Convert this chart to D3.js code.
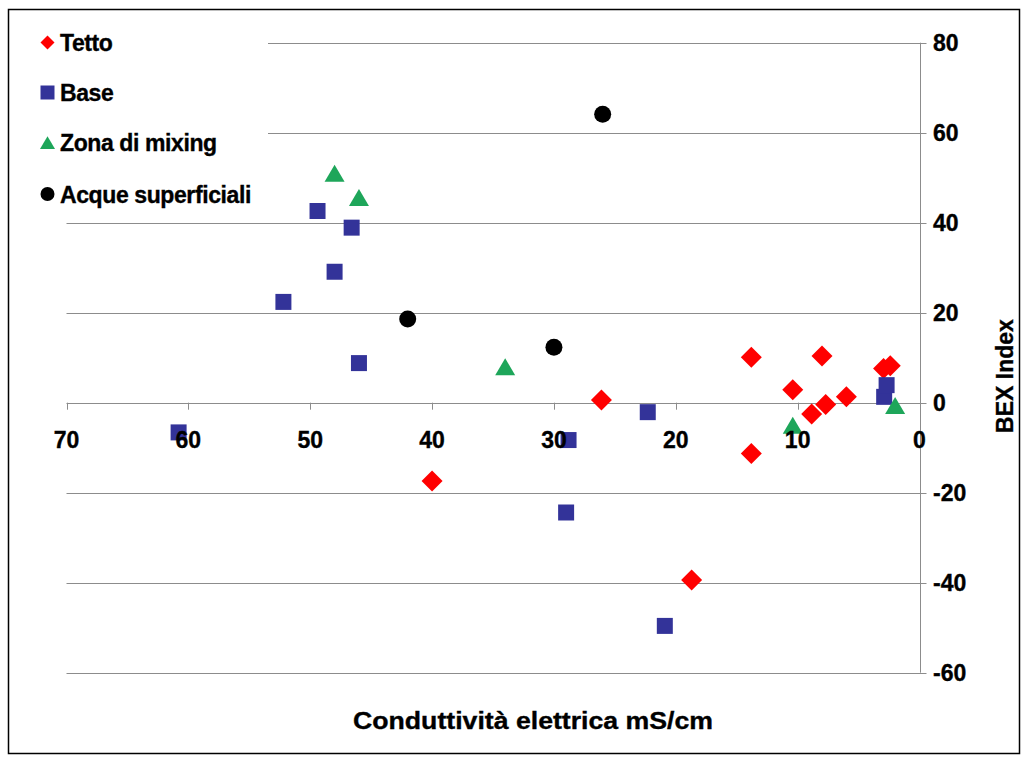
<!DOCTYPE html>
<html>
<head>
<meta charset="utf-8">
<script src="https://cdn.jsdelivr.net/npm/d3@7"></script>
<style>
  html, body { margin: 0; padding: 0; background: #fff; }
  svg { display: block; }
  text { font-family: "Liberation Sans", Arial, sans-serif; font-weight: bold; fill: #000; stroke: #000; stroke-width: 0.35; }
</style>
</head>
<body>
<svg id="chart" width="1027" height="763"></svg>
<script>
// Conducibilità elettrica (mS/cm) vs BEX index, per gruppo di campioni
const tettoX  = [26.1, 40.0, 18.7, 13.8, 13.8, 10.4, 8.0, 8.85, 7.7, 6.0, 2.95, 2.4];
const tettoY  = [0.6, -17.4, -39.4, 10.1, -11.3, 2.9, 10.4, -2.5, -0.4, 1.3, 7.6, 8.2];
const baseX   = [60.8, 52.2, 49.4, 48.0, 46.6, 46.0, 28.8, 29.0, 22.3, 20.9, 2.9, 2.7];
const baseY   = [-6.6, 22.4, 42.6, 29.1, 38.9, 8.8, -8.3, -24.4, -2.1, -49.6, 1.3, 3.9];
const mixX    = [48.0, 46.0, 34.0, 10.4, 2.0];
const mixY    = [51.0, 45.6, 8.0, -5.0, -0.6];
const acqueX  = [42.0, 30.0, 26.0];
const acqueY  = [18.6, 12.3, 64.1];

const xTicks = [70, 60, 50, 40, 30, 20, 10, 0];
const yTicks = [80, 60, 40, 20, 0, -20, -40, -60];
const seriesNames = ["Tetto", "Base", "Zona di mixing", "Acque superficiali"];
const xTitle = "Conduttività elettrica mS/cm";
const yTitle = "BEX Index";

const svg = d3.select("#chart");

// reversed x axis: 70 on the left, 0 on the right
const x = d3.scaleLinear().domain([70, 0]).range([66.5, 919.5]);
const y = d3.scaleLinear().domain([-60, 80]).range([672.7, 42.7]);

// marker shapes
const shapes = {
  diamond: (h) => `M0,${-h}L${h},0L0,${h}L${-h},0Z`,
  square: (s) => `M${-s/2},${-s/2}h${s}v${s}h${-s}Z`,
  triangle: (w) => { const hh = w * 0.85; return `M0,${-hh/2}L${w/2},${hh/2}L${-w/2},${hh/2}Z`; },
  circle: (r) => `M${r},0A${r},${r} 0 1,1 ${-r},0A${r},${r} 0 1,1 ${r},0Z`
};

const series = [
  { name: seriesNames[0], xs: tettoX, ys: tettoY, color: "#ff0000", shape: "diamond", size: 10.5, lsize: 7 },
  { name: seriesNames[1], xs: baseX,  ys: baseY,  color: "#333399", shape: "square",  size: 16,   lsize: 14 },
  { name: seriesNames[2], xs: mixX,   ys: mixY,   color: "#1ea65a", shape: "triangle", size: 20,  lsize: 15 },
  { name: seriesNames[3], xs: acqueX, ys: acqueY, color: "#000000", shape: "circle",  size: 8.5,  lsize: 7 }
];

// outer frame
svg.append("rect")
  .attr("x", 8.5).attr("y", 9.5).attr("width", 1011).attr("height", 744)
  .attr("fill", "#fff").attr("stroke", "#000").attr("stroke-width", 1.5);

// horizontal gridlines (and the y = 0 axis line)
svg.append("g").selectAll("line").data(yTicks).join("line")
  .attr("x1", x(70)).attr("x2", x(0) + 7)
  .attr("y1", d => Math.round(y(d)) + 0.5).attr("y2", d => Math.round(y(d)) + 0.5)
  .attr("stroke", "#8c8c8c").attr("stroke-width", 1);

// vertical axis line at x = 0
svg.append("line")
  .attr("x1", Math.round(x(0)) + 0.5).attr("x2", Math.round(x(0)) + 0.5)
  .attr("y1", y(80)).attr("y2", y(-60))
  .attr("stroke", "#8c8c8c").attr("stroke-width", 1);

// x tick marks on the zero line
svg.append("g").selectAll("line").data(xTicks.filter(d => d !== 0)).join("line")
  .attr("x1", d => Math.round(x(d)) + 0.5).attr("x2", d => Math.round(x(d)) + 0.5)
  .attr("y1", y(0)).attr("y2", y(0) + 7)
  .attr("stroke", "#8c8c8c").attr("stroke-width", 1);

// legend background covers the gridlines behind it
svg.append("rect")
  .attr("x", 28).attr("y", 18).attr("width", 240).attr("height", 198)
  .attr("fill", "#fff");

// data markers
series.forEach(s => {
  svg.append("g").selectAll("path").data(s.xs.map((v, i) => [v, s.ys[i]])).join("path")
    .attr("transform", d => `translate(${x(d[0])},${y(d[1])})`)
    .attr("d", shapes[s.shape](s.size))
    .attr("fill", s.color);
});

// x tick labels
svg.append("g").selectAll("text").data(xTicks).join("text")
  .attr("x", d => x(d)).attr("y", 448)
  .attr("text-anchor", "middle")
  .attr("font-size", 23)
  .text(d => d);

// y tick labels (right side)
svg.append("g").selectAll("text").data(yTicks).join("text")
  .attr("x", 933).attr("y", d => y(d) + 8)
  .attr("font-size", 23)
  .text(d => d);

// axis titles
svg.append("text")
  .attr("x", 533).attr("y", 729)
  .attr("text-anchor", "middle")
  .attr("font-size", 24)
  .attr("textLength", 360).attr("lengthAdjust", "spacingAndGlyphs")
  .text(xTitle);

svg.append("text")
  .attr("transform", "translate(1013,376) rotate(-90)")
  .attr("text-anchor", "middle")
  .attr("font-size", 23)
  .text(yTitle);

// legend
const legendRows = [42.5, 92.5, 142.5, 194];
series.forEach((s, i) => {
  svg.append("path")
    .attr("transform", `translate(47.5,${legendRows[i]})`)
    .attr("d", shapes[s.shape](s.lsize))
    .attr("fill", s.color);
  svg.append("text")
    .attr("x", 60).attr("y", legendRows[i] + 8.5)
    .attr("font-size", 23)
    .attr("letter-spacing", -0.4)
    .text(s.name);
});
</script>
</body>
</html>
